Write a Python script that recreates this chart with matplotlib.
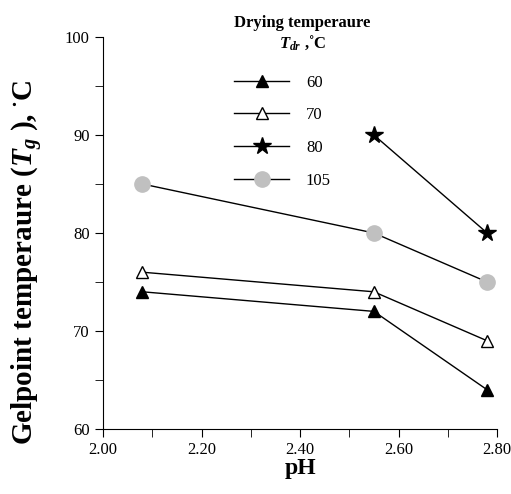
import numpy as np
import matplotlib as mpl
import matplotlib.pyplot as plt
from matplotlib.ticker import MultipleLocator, FormatStrFormatter

plt.rc('font', family='Liberation Serif')
mpl.rcParams['mathtext.fontset'] = 'custom'
mpl.rcParams['mathtext.it'] = 'Liberation Serif:italic:bold'
mpl.rcParams['mathtext.rm'] = 'Liberation Serif:bold'

# Data
ph = [2.08, 2.55, 2.78]
t60 = [74, 72, 64]
t70 = [76, 74, 69]
ph80 = [2.55, 2.78]
t80 = [90, 80]
t105 = [85, 80, 75]
labels = ["60", "70", "80", "105"]

fig = plt.figure(figsize=(5.11, 4.94), dpi=100)
ax = fig.add_axes([0.2016, 0.1316, 0.771, 0.7935])

ax.plot(ph, t60, 'k-', lw=1, marker='^', ms=9, mfc='k', mec='k', label=labels[0])
ax.plot(ph, t70, 'k-', lw=1, marker='^', ms=9, mfc='white', mec='k', label=labels[1])
ax.plot(ph80, t80, 'k-', lw=1, marker='*', ms=13, mfc='k', mec='k', label=labels[2])
ax.plot(ph, t105, 'k-', lw=1, marker='o', ms=11, mfc='#c0c0c0', mec='#c0c0c0', label=labels[3])

ax.set_xlim(2.0, 2.8)
ax.set_ylim(60, 100)
ax.xaxis.set_major_locator(MultipleLocator(0.2))
ax.xaxis.set_minor_locator(MultipleLocator(0.1))
ax.xaxis.set_major_formatter(FormatStrFormatter('%.2f'))
ax.yaxis.set_major_locator(MultipleLocator(10))
ax.yaxis.set_minor_locator(MultipleLocator(5))
ax.tick_params(axis='both', which='major', length=6, direction='out', labelsize=12)
ax.tick_params(axis='both', which='minor', length=6, direction='out')
ax.spines['top'].set_visible(False)
ax.spines['right'].set_visible(False)

ax.set_xlabel('pH', fontsize=17, fontweight='bold', labelpad=0)
ax.set_ylabel(r'Gelpoint temperaure ($T_g$ ), $^{\bullet}$C', fontsize=21, fontweight='bold')
ax.yaxis.set_label_coords(-0.147, 0.426)

leg = ax.legend(loc='upper left', bbox_to_anchor=(0.295, 1.095), frameon=False,
                title='Drying temperaure\n$T_{dr}$ ,˚C', fontsize=12,
                handlelength=3.3, handletextpad=1.0, labelspacing=1.0)
leg.get_title().set_fontweight('bold')
leg.get_title().set_fontsize(12)
leg.get_title().set_multialignment('center')
leg._legend_box.align = 'left'
leg._legend_box.sep = 16

plt.savefig('out.png', dpi=100)
